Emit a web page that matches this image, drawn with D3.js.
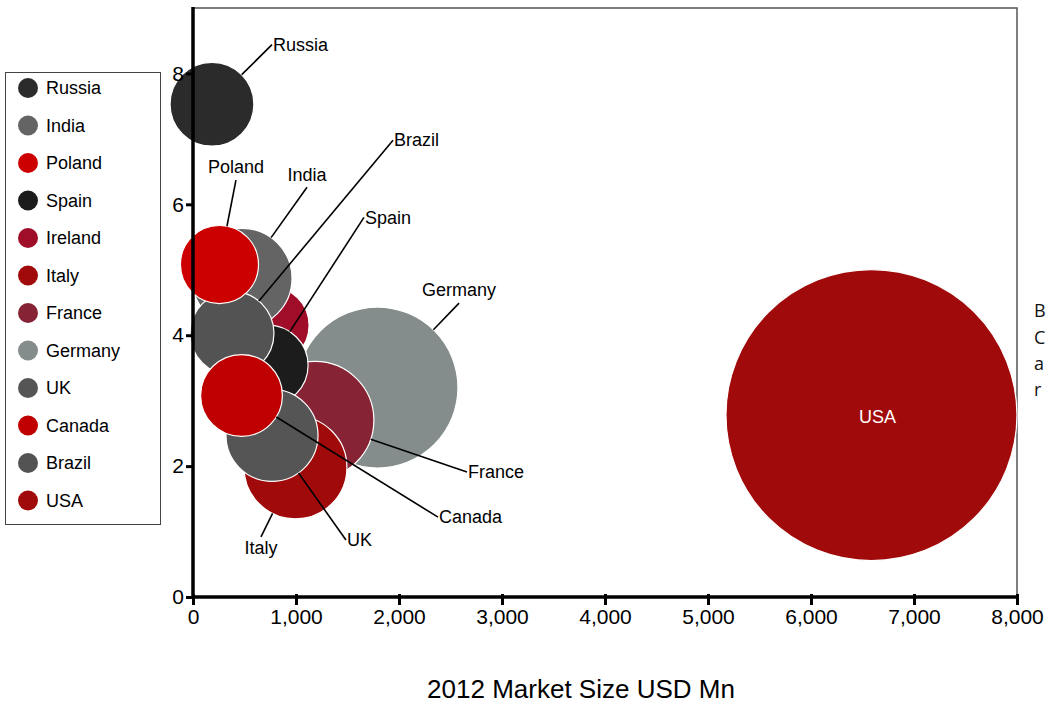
<!DOCTYPE html>
<html>
<head>
<meta charset="utf-8">
<script src="https://cdn.jsdelivr.net/npm/d3@7/dist/d3.min.js"></script>
<style>
  body { margin: 0; background: #fff; overflow: hidden; }
  svg { display: block; font-family: "Liberation Sans", Arial, sans-serif; }
</style>
</head>
<body>
<div id="chart"></div>
<script>
// Bubble chart data (legend order)
const countries = ["Russia", "India", "Poland", "Spain", "Ireland", "Italy", "France", "Germany", "UK", "Canada", "Brazil", "USA"];
const marketSize = [184, 476, 257, 728, 748, 995, 1184, 1791, 767, 471, 379, 6587];
const growth = [7.53, 4.87, 5.08, 3.54, 4.15, 1.98, 2.70, 3.20, 2.47, 3.08, 4.03, 2.78];
const bubbleSize = [8.3, 11.8, 7.2, 7.6, 7.2, 12.5, 16.4, 30.6, 10.0, 7.9, 8.3, 100];
const colors = ["#2b2b2b", "#646464", "#cc0000", "#1c1c1c", "#a00d28", "#a00a0a", "#862334", "#848c8c", "#555555", "#c00000", "#535353", "#a10a0a"];

// label anchor positions (data units) and placement
const labelX = [767, 1107, 417, 1660, null, 660, 2660, 2583, 1485, 2379, 1942, null];
const labelY = [8.44, 6.26, 6.37, 5.80, null, 0.92, 1.91, 4.49, 0.87, 1.22, 6.98, null];
const labelPos = ["right", "top", "top", "right", null, "bottom", "right", "top", "right", "right", "right", "inside"];

// drawing order, bottom to top
const drawOrder = ["USA", "Germany", "France", "Italy", "Ireland", "India", "Spain", "UK", "Brazil", "Poland", "Canada", "Russia"];

const xTicks = [0, 1000, 2000, 3000, 4000, 5000, 6000, 7000, 8000];
const yTicks = [0, 2, 4, 6, 8];
const xTitle = "2012 Market Size USD Mn";
// side note, only its first letters are visible at the window edge
const sideNote = ["B", "C", "a", "r"];

const width = 1048;
const height = 704;
const margin = { top: 8, right: 31, bottom: 107, left: 193 };

const svg = d3.select("#chart")
    .append("svg")
    .attr("width", width)
    .attr("height", height);

const x = d3.scaleLinear()
    .domain([0, 8000])
    .range([margin.left, width - margin.right]);

const y = d3.scaleLinear()
    .domain([0, 9])
    .range([height - margin.bottom, margin.top]);

const r = d3.scaleSqrt()
    .domain([0, 100])
    .range([0, 145.5]);

const data = countries.map((name, i) => ({
    name,
    x: marketSize[i],
    y: growth[i],
    size: bubbleSize[i],
    color: colors[i],
    lx: labelX[i],
    ly: labelY[i],
    pos: labelPos[i]
}));

// plot frame (top and right)
svg.append("path")
    .attr("d", `M${x(0)},${y(9)}H${x(8000)}V${y(0)}`)
    .attr("fill", "none")
    .attr("stroke", "#555")
    .attr("stroke-width", 1.5);

// bubbles
const sorted = drawOrder.map(n => data.find(d => d.name === n));
svg.append("g")
    .selectAll("circle")
    .data(sorted)
    .join("circle")
    .attr("cx", d => x(d.x))
    .attr("cy", d => y(d.y))
    .attr("r", d => r(d.size))
    .attr("fill", d => d.color)
    .attr("stroke", "#fff")
    .attr("stroke-width", 1.2);

// leader lines from bubble edge to label anchor
const labelled = data.filter(d => d.lx !== null);
svg.append("g")
    .selectAll("line")
    .data(labelled)
    .join("line")
    .each(function(d) {
        const cx = x(d.x), cy = y(d.y);
        const ex = x(d.lx), ey = y(d.ly);
        const len = Math.hypot(ex - cx, ey - cy);
        const rad = r(d.size);
        d3.select(this)
            .attr("x1", cx + (ex - cx) / len * rad)
            .attr("y1", cy + (ey - cy) / len * rad)
            .attr("x2", ex)
            .attr("y2", ey);
    })
    .attr("stroke", "#000")
    .attr("stroke-width", 1.6);

svg.append("g")
    .selectAll("text")
    .data(labelled)
    .join("text")
    .attr("x", d => x(d.lx) + (d.pos === "right" ? 1 : 0))
    .attr("y", d => y(d.ly) + (d.pos === "top" ? -13 : d.pos === "bottom" ? 11 : 0))
    .attr("dy", "0.35em")
    .attr("text-anchor", d => d.pos === "right" ? "start" : "middle")
    .style("font-size", "18px")
    .text(d => d.name);

// label inside USA bubble
svg.append("g")
    .selectAll("text")
    .data(data.filter(d => d.pos === "inside"))
    .join("text")
    .attr("x", d => x(d.x) + 6)
    .attr("y", d => y(d.y) + 2)
    .attr("dy", "0.35em")
    .attr("text-anchor", "middle")
    .attr("fill", "#fff")
    .style("font-size", "18px")
    .text(d => d.name);

// axes
const xAxis = svg.append("g")
    .attr("transform", `translate(0,${y(0)})`)
    .call(d3.axisBottom(x).tickValues(xTicks).tickSize(8).tickPadding(4).tickFormat(d3.format(",")));
const yAxis = svg.append("g")
    .attr("transform", `translate(${x(0)},0)`)
    .call(d3.axisLeft(y).tickValues(yTicks).tickSize(7).tickPadding(2).tickFormat(d3.format("d")));

[xAxis, yAxis].forEach(g => {
    g.select(".domain").remove();
    g.selectAll(".tick line").attr("stroke", "#000").attr("stroke-width", 3);
    g.selectAll(".tick text")
        .attr("fill", "#000")
        .style("font-size", "21px")
        .style("font-family", "'Liberation Sans', Arial, sans-serif");
});
xAxis.selectAll(".tick line").attr("y1", -3);

// thick axis lines
svg.append("line")
    .attr("x1", x(0)).attr("x2", x(8000))
    .attr("y1", y(0)).attr("y2", y(0))
    .attr("stroke", "#000").attr("stroke-width", 3.5);
svg.append("line")
    .attr("x1", x(0)).attr("x2", x(0))
    .attr("y1", y(0)).attr("y2", y(9) - 1)
    .attr("stroke", "#000").attr("stroke-width", 3.5);

// axis title
svg.append("text")
    .attr("x", 581)
    .attr("y", height - 15)
    .attr("dy", "0.35em")
    .attr("text-anchor", "middle")
    .style("font-size", "26px")
    .text(xTitle);

// side note at the window edge
svg.append("g")
    .selectAll("text")
    .data(sideNote)
    .join("text")
    .attr("x", 1034)
    .attr("y", (d, i) => 311 + i * 26.3)
    .attr("dy", "0.35em")
    .style("font-family", "'Open Sans', sans-serif")
    .style("font-size", "18px")
    .attr("fill", "#111")
    .text(d => d);

// legend
const legend = svg.append("g");
legend.append("rect")
    .attr("x", 5.5).attr("y", 72.5)
    .attr("width", 155).attr("height", 452)
    .attr("fill", "#fff")
    .attr("stroke", "#444")
    .attr("stroke-width", 1);

const rows = legend.selectAll("g.row")
    .data(data)
    .join("g")
    .attr("class", "row")
    .attr("transform", (d, i) => `translate(0,${88 + i * 37.5})`);
rows.append("circle")
    .attr("cx", 28).attr("r", 10)
    .attr("fill", d => d.color);
rows.append("text")
    .attr("x", 46)
    .attr("dy", "0.35em")
    .style("font-size", "18px")
    .text(d => d.name);
</script>
</body>
</html>
